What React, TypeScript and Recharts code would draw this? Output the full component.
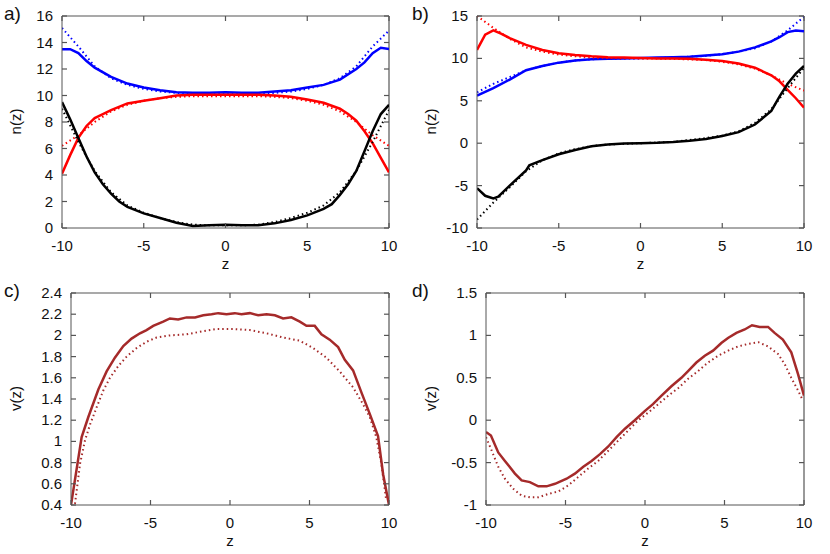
import React from "react";
import { LineChart, Line, XAxis, YAxis, ReferenceLine } from "recharts";

const FONT = "'Liberation Sans', Arial, Helvetica, sans-serif";
const BORDER = "#555555";
const BROWN = "#A52A2A";
const TICK_LEN = 5;

const Z_TICKS = [-10, -5, 0, 5, 10];
const A_TICKS = [0, 2, 4, 6, 8, 10, 12, 14, 16];
const B_TICKS = [-10, -5, 0, 5, 10, 15];
const C_TICKS = [0.4, 0.6, 0.8, 1, 1.2, 1.4, 1.6, 1.8, 2, 2.2, 2.4];
const D_TICKS = [-1, -0.5, 0, 0.5, 1, 1.5];

type P = [number, number];

// panel a
const A_BLUE: P[] = [[-10, 13.5], [-9.5, 13.5], [-9, 13.2], [-8.5, 12.6], [-8, 12.1], [-7, 11.4], [-6, 10.9], [-5, 10.6], [-4, 10.4], [-3, 10.25], [-2, 10.2], [-1, 10.2], [0, 10.25], [1, 10.2], [2, 10.2], [3, 10.3], [4, 10.4], [5, 10.6], [6, 10.8], [7, 11.2], [8, 12.0], [8.5, 12.5], [9, 13.2], [9.5, 13.6], [10, 13.5]];
const A_BLUE_DOT: P[] = [[-10, 15.1], [-9, 13.7], [-8, 12.2], [-7, 11.3], [-6, 10.8], [-5, 10.5], [-4, 10.3], [-3, 10.2], [-2, 10.15], [0, 10.15], [2, 10.15], [3, 10.2], [4, 10.3], [5, 10.5], [6, 10.8], [7, 11.3], [8, 12.2], [9, 13.7], [10, 14.9]];
const A_RED: P[] = [[-10, 4.1], [-9.5, 5.5], [-9, 6.8], [-8.5, 7.7], [-8, 8.3], [-7.5, 8.6], [-7, 8.9], [-6, 9.4], [-5, 9.6], [-4, 9.8], [-3, 10.0], [-2, 10.05], [0, 10.05], [2, 10.05], [3, 10.0], [4, 9.9], [5, 9.7], [6, 9.45], [7, 9.0], [7.5, 8.6], [8, 8.1], [8.5, 7.3], [9, 6.4], [9.5, 5.3], [10, 4.2]];
const A_RED_DOT: P[] = [[-10, 6.2], [-9, 7.0], [-8, 8.0], [-7, 8.8], [-6, 9.3], [-5, 9.6], [-4, 9.8], [-3, 9.9], [-2, 9.95], [0, 9.95], [2, 9.95], [3, 9.9], [4, 9.8], [5, 9.6], [6, 9.3], [7, 8.8], [8, 8.0], [9, 7.0], [10, 6.2]];
const A_BLACK: P[] = [[-10, 9.5], [-9.5, 8.2], [-9, 6.8], [-8.5, 5.4], [-8, 4.2], [-7.5, 3.3], [-7, 2.6], [-6.5, 2.0], [-6, 1.6], [-5, 1.1], [-4, 0.75], [-3, 0.4], [-2, 0.15], [-1, 0.2], [0, 0.25], [1, 0.2], [2, 0.2], [3, 0.35], [4, 0.6], [5, 0.95], [6, 1.45], [6.5, 1.8], [7, 2.5], [7.5, 3.3], [8, 4.3], [8.5, 5.8], [9, 7.3], [9.5, 8.6], [10, 9.3]];
const A_BLACK_DOT: P[] = [[-10, 9.0], [-9, 6.5], [-8, 4.3], [-7, 2.7], [-6, 1.7], [-5, 1.15], [-4, 0.75], [-3, 0.45], [-2, 0.25], [-1, 0.2], [0, 0.2], [1, 0.2], [2, 0.25], [3, 0.45], [4, 0.75], [5, 1.15], [6, 1.7], [7, 2.7], [8, 4.3], [9, 6.5], [10, 8.9]];

// panel b
const B_RED: P[] = [[-10, 11.0], [-9.5, 12.8], [-9, 13.3], [-8.5, 12.9], [-8, 12.4], [-7, 11.6], [-6, 11.0], [-5, 10.6], [-4, 10.4], [-3, 10.25], [-2, 10.15], [-1, 10.1], [0, 10.05], [1, 10.0], [2, 10.0], [3, 9.95], [4, 9.85], [5, 9.7], [6, 9.4], [7, 8.9], [8, 8.0], [8.5, 7.3], [9, 6.3], [9.5, 5.3], [10, 4.2]];
const B_RED_DOT: P[] = [[-10, 15.0], [-9, 13.6], [-8, 12.3], [-7, 11.3], [-6, 10.8], [-5, 10.45], [-4, 10.25], [-3, 10.1], [-2, 10.05], [0, 10.0], [2, 9.95], [4, 9.8], [5, 9.6], [6, 9.3], [7, 8.8], [8, 8.0], [9, 7.0], [10, 6.2]];
const B_BLUE: P[] = [[-10, 5.6], [-9, 6.5], [-8, 7.5], [-7, 8.6], [-6, 9.1], [-5, 9.5], [-4, 9.75], [-3, 9.9], [-2, 9.95], [-1, 10.0], [0, 10.05], [1, 10.1], [2, 10.15], [3, 10.2], [4, 10.35], [5, 10.5], [6, 10.8], [7, 11.3], [8, 12.0], [8.5, 12.5], [9, 13.1], [9.5, 13.3], [10, 13.2]];
const B_BLUE_DOT: P[] = [[-10, 6.0], [-9, 7.0], [-8, 7.8], [-7, 8.6], [-6, 9.1], [-5, 9.5], [-4, 9.75], [-3, 9.9], [-2, 9.95], [0, 10.0], [2, 10.1], [4, 10.3], [5, 10.5], [6, 10.8], [7, 11.2], [8, 12.0], [9, 13.3], [10, 14.9]];
const B_BLACK: P[] = [[-10, -5.3], [-9.5, -6.2], [-9, -6.5], [-8.7, -6.3], [-8, -5.0], [-7, -3.2], [-6.8, -2.6], [-6, -2.0], [-5, -1.3], [-4, -0.8], [-3, -0.35], [-2, -0.15], [-1, -0.05], [0, 0], [1, 0.05], [2, 0.15], [3, 0.3], [4, 0.5], [5, 0.85], [6, 1.3], [7, 2.2], [8, 3.8], [8.5, 5.5], [9, 7.0], [9.5, 8.2], [10, 9.1]];
const B_BLACK_DOT: P[] = [[-10, -9.0], [-9, -7.0], [-8, -5.2], [-7, -3.3], [-6, -2.0], [-5, -1.2], [-4, -0.7], [-3, -0.35], [-2, -0.15], [0, 0], [2, 0.15], [4, 0.6], [5, 0.9], [6, 1.4], [7, 2.4], [8, 4.0], [9, 6.5], [10, 8.9]];

// panel c
const C_SOLID: P[] = [[-10, 0.4], [-9.33, 1.04], [-8.91, 1.23], [-8.28, 1.49], [-7.76, 1.66], [-7.24, 1.79], [-6.71, 1.9], [-6.19, 1.97], [-5.66, 2.02], [-5.25, 2.05], [-4.83, 2.09], [-4.2, 2.13], [-3.78, 2.16], [-3.26, 2.15], [-2.73, 2.17], [-2.2, 2.17], [-1.68, 2.19], [-1.16, 2.2], [-0.74, 2.21], [-0.22, 2.2], [0.3, 2.21], [0.72, 2.2], [1.25, 2.21], [1.77, 2.19], [2.3, 2.2], [2.82, 2.19], [3.34, 2.16], [3.86, 2.17], [4.39, 2.13], [4.81, 2.09], [5.33, 2.09], [5.75, 2.01], [6.27, 1.96], [6.8, 1.89], [7.22, 1.77], [7.74, 1.67], [8.27, 1.46], [8.79, 1.26], [9.31, 1.05], [9.63, 0.69], [10, 0.4]];
const C_DOT: P[] = [[-9.75, 0.41], [-9.43, 0.79], [-9.12, 1.01], [-8.8, 1.16], [-8.39, 1.32], [-7.97, 1.48], [-7.55, 1.6], [-7.03, 1.71], [-6.5, 1.8], [-5.88, 1.88], [-5.25, 1.94], [-4.62, 1.98], [-3.78, 2.0], [-2.73, 2.01], [-1.68, 2.04], [-0.85, 2.06], [0.2, 2.06], [1.25, 2.05], [2.3, 2.02], [3.34, 1.98], [4.39, 1.95], [5.23, 1.88], [6.06, 1.79], [6.9, 1.66], [7.74, 1.51], [8.37, 1.35], [8.79, 1.23], [9.2, 1.04], [9.52, 0.79], [9.83, 0.44]];

// panel d
const D_SOLID: P[] = [[-10, -0.14], [-9.69, -0.18], [-9.23, -0.38], [-8.81, -0.48], [-8.18, -0.63], [-7.76, -0.71], [-7.24, -0.73], [-6.71, -0.78], [-6.19, -0.78], [-5.66, -0.75], [-4.93, -0.69], [-4.41, -0.63], [-3.88, -0.55], [-3.36, -0.48], [-2.83, -0.4], [-2.31, -0.31], [-1.79, -0.2], [-1.26, -0.1], [-0.64, 0.0], [0.0, 0.11], [0.5, 0.19], [1.04, 0.29], [1.66, 0.4], [2.29, 0.5], [2.71, 0.58], [3.23, 0.68], [3.76, 0.76], [4.28, 0.82], [4.8, 0.91], [5.22, 0.97], [5.75, 1.03], [6.27, 1.07], [6.73, 1.12], [7.21, 1.1], [7.74, 1.1], [8.15, 1.03], [8.67, 0.95], [9.2, 0.8], [9.63, 0.54], [10, 0.29]];
const D_DOT: P[] = [[-10, -0.2], [-9.64, -0.36], [-9.23, -0.55], [-8.81, -0.69], [-8.28, -0.81], [-7.76, -0.89], [-7.24, -0.91], [-6.71, -0.91], [-6.08, -0.87], [-5.45, -0.84], [-4.83, -0.77], [-4.2, -0.67], [-3.57, -0.57], [-2.94, -0.48], [-2.31, -0.36], [-1.68, -0.24], [-1.05, -0.12], [-0.42, 0.0], [0.21, 0.09], [0.84, 0.19], [1.47, 0.29], [2.1, 0.38], [2.72, 0.49], [3.34, 0.58], [3.97, 0.68], [4.6, 0.76], [5.23, 0.82], [5.86, 0.87], [6.49, 0.9], [7.12, 0.92], [7.74, 0.87], [8.37, 0.78], [8.79, 0.66], [9.2, 0.5], [9.63, 0.35], [9.94, 0.23]];

type Series = { pts: P[]; color: string; dotted?: boolean };

const toData = (pts: P[]) => pts.map(([z, v]) => ({ z, v }));

const PLOT_RIGHT = 389;
const PLOT_TOP = 16;
const PLOT_BOTTOM = 228;
const W = 415;
const H = 277;

const labelStyle: React.CSSProperties = {
  position: "absolute",
  fontFamily: FONT,
  fontSize: 15,
  color: "#111",
  textAlign: "center",
};

function renderPanel(
  key: string,
  left: number,
  top: number,
  plotLeft: number,
  domain: [number, number],
  ticks: number[],
  series: Series[],
  yLabel: string,
  tag: string,
  tagLeft: number
) {
  // gnuplot style: ticks point inward, mirrored on top and right
  const xTick = (p: any) => (
    <g>
      <line x1={p.x} x2={p.x} y1={PLOT_BOTTOM} y2={PLOT_BOTTOM - TICK_LEN} stroke={BORDER} strokeWidth={1.2} />
      <line x1={p.x} x2={p.x} y1={PLOT_TOP} y2={PLOT_TOP + TICK_LEN} stroke={BORDER} strokeWidth={1.2} />
      <text x={p.x} y={PLOT_BOTTOM + 23} textAnchor="middle" style={{ fontFamily: FONT, fontSize: 15, fill: "#111" }}>
        {String(p.payload.value)}
      </text>
    </g>
  );
  const yTick = (p: any) => (
    <g>
      <line x1={plotLeft} x2={plotLeft + TICK_LEN} y1={p.y} y2={p.y} stroke={BORDER} strokeWidth={1.2} />
      <line x1={PLOT_RIGHT - TICK_LEN} x2={PLOT_RIGHT} y1={p.y} y2={p.y} stroke={BORDER} strokeWidth={1.2} />
      <text x={plotLeft - 9} y={p.y + 5} textAnchor="end" style={{ fontFamily: FONT, fontSize: 15, fill: "#111" }}>
        {String(p.payload.value)}
      </text>
    </g>
  );
  return (
    <div key={key} style={{ position: "absolute", left, top, width: W, height: H }}>
      <LineChart
        width={W}
        height={H}
        margin={{ top: PLOT_TOP, right: W - PLOT_RIGHT, bottom: 0, left: 0 }}
      >
        <XAxis
          type="number"
          dataKey="z"
          domain={[-10, 10]}
          ticks={Z_TICKS}
          interval={0}
          allowDataOverflow
          height={H - PLOT_BOTTOM}
          tickLine={false}
          tick={xTick}
          stroke={BORDER}
        />
        <YAxis
          type="number"
          domain={domain}
          ticks={ticks}
          interval={0}
          allowDataOverflow
          width={plotLeft}
          tickLine={false}
          tick={yTick}
          stroke={BORDER}
        />
        <ReferenceLine x={10} stroke={BORDER} strokeWidth={1.2} ifOverflow="visible" />
        <ReferenceLine y={domain[1]} stroke={BORDER} strokeWidth={1.2} ifOverflow="visible" />
        {series.map((s, i) => (
          <Line
            key={i}
            data={toData(s.pts)}
            dataKey="v"
            type="linear"
            stroke={s.color}
            strokeWidth={s.dotted ? 2 : 2.5}
            strokeDasharray={s.dotted ? "1.5 3" : undefined}
            dot={false}
            activeDot={false}
            isAnimationActive={false}
          />
        ))}
      </LineChart>
      <div style={{ ...labelStyle, left: tagLeft, top: 3, fontSize: 19, textAlign: "left" }}>{tag}</div>
      <div style={{ ...labelStyle, left: (plotLeft + PLOT_RIGHT) / 2 - 20, width: 40, top: 255 }}>z</div>
      <div
        style={{
          ...labelStyle,
          left: -15,
          width: 60,
          top: (PLOT_TOP + PLOT_BOTTOM) / 2 - 9,
          transform: "rotate(-90deg)",
        }}
      >
        {yLabel}
      </div>
    </div>
  );
}

export default function App() {
  return (
    <div style={{ position: "absolute", left: 0, top: 0, width: 830, height: 554, background: "#fff" }}>
      {renderPanel("a", 0, 0, 62, [0, 16], A_TICKS, [
        { pts: A_BLUE_DOT, color: "#0000FF", dotted: true },
        { pts: A_BLUE, color: "#0000FF" },
        { pts: A_RED_DOT, color: "#FF0000", dotted: true },
        { pts: A_RED, color: "#FF0000" },
        { pts: A_BLACK_DOT, color: "#000000", dotted: true },
        { pts: A_BLACK, color: "#000000" },
      ], "n(z)", "a)", 4)}
      {renderPanel("b", 415, 0, 62, [-10, 15], B_TICKS, [
        { pts: B_BLUE_DOT, color: "#0000FF", dotted: true },
        { pts: B_BLUE, color: "#0000FF" },
        { pts: B_RED_DOT, color: "#FF0000", dotted: true },
        { pts: B_RED, color: "#FF0000" },
        { pts: B_BLACK_DOT, color: "#000000", dotted: true },
        { pts: B_BLACK, color: "#000000" },
      ], "n(z)", "b)", -3)}
      {renderPanel("c", 0, 277, 71, [0.4, 2.4], C_TICKS, [
        { pts: C_DOT, color: BROWN, dotted: true },
        { pts: C_SOLID, color: BROWN },
      ], "v(z)", "c)", 4)}
      {renderPanel("d", 415, 277, 71, [-1, 1.5], D_TICKS, [
        { pts: D_DOT, color: BROWN, dotted: true },
        { pts: D_SOLID, color: BROWN },
      ], "v(z)", "d)", -3)}
    </div>
  );
}
